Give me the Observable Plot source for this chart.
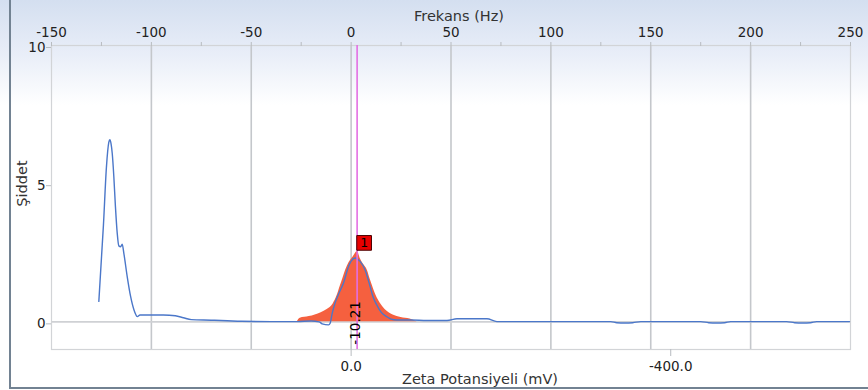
<!DOCTYPE html>
<html>
<head>
<meta charset="utf-8">
<script src="https://cdn.jsdelivr.net/npm/d3@7"></script>
<script src="https://cdn.jsdelivr.net/npm/@observablehq/plot@0.6"></script>
<style>
  html, body { margin: 0; padding: 0; }
  body {
    width: 868px; height: 390px; overflow: hidden; position: relative;
    background: linear-gradient(to bottom, #d4dff0 0px, #e9eef8 55px, #ffffff 105px, #ffffff 390px);
    font-family: "DejaVu Sans", sans-serif;
  }
  #outer {
    position: absolute; left: 9px; top: 0; width: 870px; height: 387px;
    border-left: 2px solid #728292; border-bottom: 2px solid #728292;
    pointer-events: none;
  }
  #chart { position: absolute; left: 0; top: 0; }
</style>
</head>
<body>
<div id="chart"></div>
<div id="outer"></div>
<script>
// ---- data ----
const freqTicks = [-150, -100, -50, 0, 50, 100, 150, 200, 250];
const minorFreqTicks = [-125, -75, -25, 25, 75, 125, 175, 225];
const gridHz = [-100, -50, 0, 50, 100, 150, 200];
const intensityTicks = [0, 5, 10];
const zetaTickHz = [0, 160];
const zetaTickLabels = ["0.0", "-400.0"];

const blueHz = [-126.3, -124, -122.5, -121.3, -120.8, -120.2, -119.6, -118.8, -118, -117.1, -116.3, -115.4, -114.6, -113.8, -112.1, -110.4, -108.7, -107, -105.7, -100, -94, -88, -84, -80, -70, -62, -55, -40, -27, -20, -16, -14.5, -11.3, -10.5, -9.5, -8, -6, -3.8, -1.3, 0, 2, 3, 4.5, 7, 9.5, 11, 12.8, 15, 17.8, 20, 22.8, 30, 38, 48, 53, 68, 73, 130, 133, 137, 141, 145, 175, 179, 183, 187, 190, 218, 222, 226, 230, 233, 249.5];
const blueVal = [0.74, 3.5, 5.6, 6.5, 6.59, 6.45, 6.1, 5.26, 4.18, 3.21, 2.75, 2.72, 2.81, 2.49, 1.64, 0.92, 0.43, 0.19, 0.25, 0.25, 0.25, 0.22, 0.15, 0.08, 0.06, 0.04, 0.02, 0.01, 0.01, 0.03, 0.0, -0.07, -0.11, -0.05, 0.3, 0.69, 1.05, 1.41, 2.0, 2.2, 2.31, 2.28, 2.19, 1.88, 1.28, 0.9, 0.62, 0.35, 0.19, 0.1, 0.07, 0.07, 0.05, 0.05, 0.11, 0.11, 0.01, 0.01, -0.03, -0.04, -0.03, 0.01, 0.01, -0.03, -0.04, -0.03, 0.01, 0.01, -0.03, -0.04, -0.03, 0.01, 0.01];

const redHz = [-27, -25.5, -21, -18, -15, -12, -9, -7, -5.5, -4, -2.7, -1, 1, 3.2, 4.5, 6, 8.2, 9.5, 10.8, 12.5, 14.5, 17, 21, 25, 29.5, 33];
const redVal = [0, 0.13, 0.19, 0.25, 0.33, 0.45, 0.65, 0.95, 1.28, 1.6, 1.88, 2.15, 2.35, 2.55, 2.3, 2.1, 1.85, 1.55, 1.28, 0.95, 0.68, 0.45, 0.25, 0.16, 0.1, 0];

const peakHz = 3;
const peakVal = 2.55;
const peakLabel = "-10.21";
const markerLabel = "1";

const xTitle = "Frekans (Hz)";
const x2Title = "Zeta Potansiyeli (mV)";
const yTitle = "Şiddet";

// ---- build ----
const blue = blueHz.map((h, i) => ({hz: h, val: blueVal[i]}));
const red = redHz.map((h, i) => ({hz: h, val: redVal[i]}));
const peak = [{hz: peakHz, val: peakVal, zero: 0}];
const zetaMap = new Map(zetaTickHz.map((h, i) => [h, zetaTickLabels[i]]));
const topTicks = [...freqTicks, ...minorFreqTicks].sort((a, b) => a - b);

const chart = Plot.plot({
  width: 868,
  height: 390,
  marginLeft: 51,
  marginRight: 18,
  marginTop: 45,
  marginBottom: 41,
  style: {background: "transparent", fontFamily: "DejaVu Sans, sans-serif", fontSize: "13.5px", color: "#222"},
  x: {domain: [-150, 250]},
  y: {domain: [-1, 10]},
  marks: [
    Plot.ruleX(gridHz, {stroke: "#c4c7cb", strokeWidth: 1.6}),
    Plot.ruleY([0], {stroke: "#cfd1d4", strokeWidth: 1.6}),
    Plot.frame({stroke: "#d2d4d7", strokeWidth: 1.2}),
    Plot.axisX(topTicks, {anchor: "top", tickSize: 4, tickPadding: 5, stroke: "#b8bcc0",
      tickFormat: d => freqTicks.includes(d) ? String(d) : "", label: null, fontSize: 13.5}),
    Plot.axisX(zetaTickHz, {anchor: "bottom", tickSize: 7, tickPadding: 5, stroke: "#b8bcc0",
      tickFormat: d => zetaMap.get(d), label: null, fontSize: 13.5}),
    Plot.axisY(intensityTicks, {anchor: "left", tickSize: 5, tickPadding: 1, stroke: "#b8bcc0",
      tickFormat: d => String(d), label: null, fontSize: 13.5, dy: 2}),
    Plot.text([xTitle], {frameAnchor: "top", lineAnchor: "middle", dy: -29, dx: 8, fontSize: 14.5, fill: "#333"}),
    Plot.text([x2Title], {frameAnchor: "bottom", lineAnchor: "middle", dy: 30, dx: 29, fontSize: 14.5, fill: "#333"}),
    Plot.text([yTitle], {frameAnchor: "left", lineAnchor: "middle", textAnchor: "middle", dx: -29, dy: -14, rotate: -90, fontSize: 14.5, fill: "#333"}),
    Plot.areaY(red, {x: "hz", y: "val", fill: "#f5603f", curve: "monotone-x"}),
    Plot.line(blue, {x: "hz", y: "val", stroke: "#4b77c9", strokeWidth: 1.4, curve: "monotone-x"}),
    Plot.ruleX([peakHz], {stroke: "#e36fe3", strokeWidth: 1.6}),
    Plot.dot(peak, {x: "hz", y: "val", symbol: "square", r: 8.3, fill: "#e80000", stroke: "#4a0000", strokeWidth: 1, dx: 7, dy: -8.5}),
    Plot.text(peak, {x: "hz", y: "val", text: () => markerLabel, dx: 7, dy: -8, fontSize: 12.5, fill: "#000"}),
    Plot.text(peak, {x: "hz", y: "zero", text: () => peakLabel, rotate: -90, dx: -1, dy: 1, fontSize: 13.5, fill: "#000"})
  ]
});
document.getElementById("chart").appendChild(chart);
</script>
</body>
</html>
